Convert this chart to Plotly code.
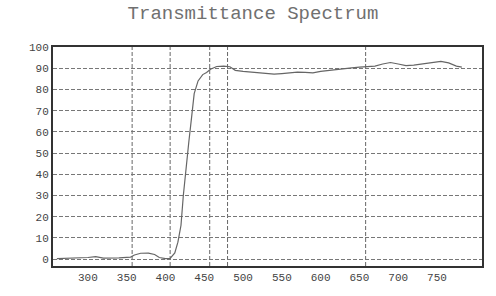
import plotly.graph_objects as go

# Transmittance spectrum
wavelength = [260, 280, 300, 310, 320, 340, 355, 360, 368, 378, 386, 392, 400, 406,
              412, 416, 420, 423, 426, 430, 434, 437, 442, 448, 453, 458, 466, 475,
              483, 490, 500, 510, 520, 530, 540, 550, 560, 570, 580, 590, 600, 610,
              620, 630, 640, 650, 660, 670, 680, 690, 700, 710, 720, 735, 745, 755,
              765, 775, 782]
transmittance = [0.3, 0.5, 0.8, 1.2, 0.5, 0.6, 1.0, 2.0, 2.8, 2.9, 2.2, 0.8, 0.3, 0.4,
                 3, 8, 16, 30, 42, 55, 68, 78, 84, 87, 88, 89.5, 90.8, 91,
                 90.7, 89, 88.5, 88.2, 88.0, 87.5, 87.2, 87.5, 88.0, 88.2, 88.0, 87.8, 88.5, 89,
                 89.5, 90, 90.2, 90.5, 90.8, 91, 92, 92.7, 92, 91.2, 91.5, 92.3, 93, 93.2,
                 92.5, 91, 90.5]

x_ticks = [300, 350, 400, 450, 500, 550, 600, 650, 700, 750]
y_ticks = [0, 10, 20, 30, 40, 50, 60, 70, 80, 90, 100]
vertical_grid = [357, 406, 457, 480, 658]

fig = go.Figure()
fig.add_trace(go.Scatter(x=wavelength, y=transmittance, mode="lines",
                         line=dict(color="#666666", width=1.2),
                         showlegend=False, hoverinfo="skip"))

for gx in vertical_grid:
    fig.add_shape(type="line", xref="x", yref="paper", x0=gx, x1=gx, y0=0, y1=1,
                  line=dict(color="#666666", width=1, dash="4px,2px"), layer="below")

font_mono = "Liberation Mono, DejaVu Sans Mono, monospace"

fig.update_layout(
    width=496, height=296,
    margin=dict(l=53, r=14, t=47, b=21),
    paper_bgcolor="white", plot_bgcolor="white",
    title=dict(text="Transmittance Spectrum", x=253/496, xref="container",
               xanchor="center", y=1-12/296, yref="container", yanchor="middle",
               font=dict(family=font_mono, size=19, color="#707070")),
    xaxis=dict(range=[255, 808], tickvals=x_ticks, ticktext=[str(v) for v in x_ticks],
               showgrid=False, zeroline=False, showline=True, linecolor="#333333",
               linewidth=2, mirror=True, ticks="",
               tickfont=dict(family=font_mono, size=11, color="#444444")),
    yaxis=dict(range=[-3.2, 100], tickvals=y_ticks, ticktext=[str(v) for v in y_ticks],
               showgrid=True, gridcolor="#777777", gridwidth=1, griddash="4px,2px",
               zeroline=False, showline=True, linecolor="#333333", linewidth=2,
               mirror=True, ticks="",
               tickfont=dict(family=font_mono, size=11, color="#444444")),
)

fig.write_html("out.html", config={"displayModeBar": False},
               post_script="document.body.style.margin='0px';")
